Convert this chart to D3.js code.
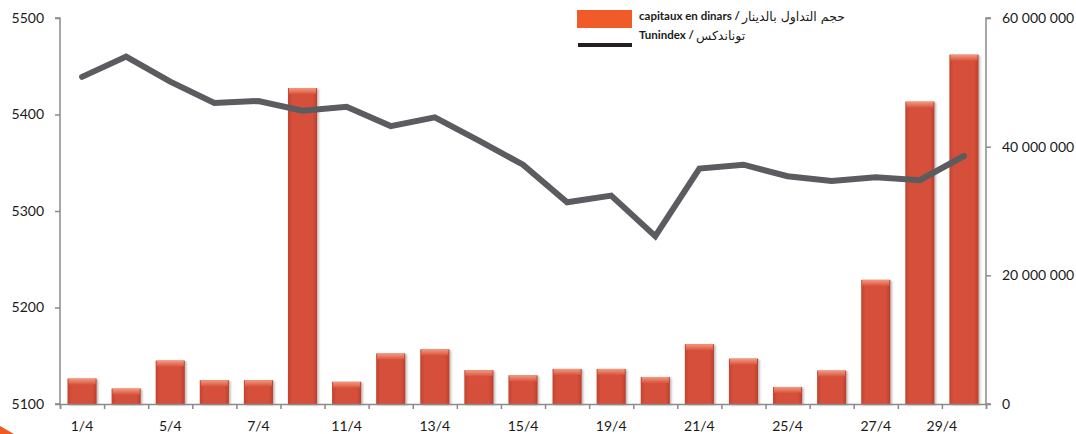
<!DOCTYPE html>
<html lang="fr">
<head>
<meta charset="UTF-8">
<title>Tunindex / capitaux</title>
<script src="https://d3js.org/d3.v7.min.js"></script>
<style>
    body { margin: 0; background: #fff; }
    svg text { font-family: Lato, "Open Sans", sans-serif; fill: #1a1a1a; }
    .axis path, .axis line { stroke: #8a8a8a; }
</style>
</head>
<body>
<div id="chart"></div>
<script>
// trading sessions of April (only some are labelled on the axis)
const sessions = ["1/4","2/4","5/4","6/4","7/4","8/4","11/4","12/4","13/4","14/4","15/4",
                  "18/4","19/4","20/4","21/4","22/4","25/4","26/4","27/4","28/4","29/4"];
// capitaux en dinars (millions)
const capitaux = [3.95, 2.4, 6.75, 3.7, 3.7, 49.1, 3.45, 7.85, 8.5, 5.25, 4.45,
                  5.45, 5.45, 4.2, 9.3, 7.05, 2.65, 5.2, 19.3, 47.0, 54.3];
// Tunindex
const tunindex = [5439, 5460, 5434, 5412, 5414, 5404, 5408, 5388, 5397, 5373, 5348,
                  5309, 5316, 5274, 5344, 5348, 5336, 5331, 5335, 5332, 5357];
// labels shown under the axis, and the session slot they sit on
const xLabels = ["1/4","5/4","7/4","11/4","13/4","15/4","19/4","21/4","25/4","27/4","29/4"];
const xLabelSlot = [0, 2, 4, 6, 8, 10, 12, 14, 16, 18, 19.5];
const leftTicks = [5100, 5200, 5300, 5400, 5500];
const rightTicks = [0, 20, 40, 60];

const width = 1076, height = 434;
const plotL = 60, plotR = 986, plotT = 18, plotB = 404;

const svg = d3.select("#chart").append("svg")
    .attr("width", width).attr("height", height);

const defs = svg.append("defs");
const side = defs.append("linearGradient").attr("id", "barSide");
side.append("stop").attr("offset", "0%").attr("stop-color", "#c2432f");
side.append("stop").attr("offset", "15%").attr("stop-color", "#d6503a");
side.append("stop").attr("offset", "85%").attr("stop-color", "#d6503a");
side.append("stop").attr("offset", "100%").attr("stop-color", "#b93e2b");
const cap = defs.append("linearGradient").attr("id", "barTop")
    .attr("x1", 0).attr("y1", 0).attr("x2", 0).attr("y2", 1);
cap.append("stop").attr("offset", "0%").attr("stop-color", "#f39a80");
cap.append("stop").attr("offset", "100%").attr("stop-color", "#d9553e");
const shadow = defs.append("filter").attr("id", "shadow")
    .attr("x", "-20%").attr("y", "-5%").attr("width", "150%").attr("height", "115%");
shadow.append("feDropShadow").attr("dx", 1.5).attr("dy", 1).attr("stdDeviation", 1)
    .attr("flood-color", "#000").attr("flood-opacity", 0.3);

// scales
const x = d3.scaleBand().domain(d3.range(sessions.length))
    .range([plotL, plotR]).paddingInner(0.34).paddingOuter(0.17);
const slot = d3.scaleLinear().domain([0, sessions.length]).range([plotL, plotR]);
const yL = d3.scaleLinear().domain([5100, 5500]).range([plotB, plotT]);
const yR = d3.scaleLinear().domain([0, 60]).range([plotB, plotT]);

// bars
const bars = svg.append("g").selectAll("g").data(capitaux).enter().append("g")
    .attr("filter", "url(#shadow)");
bars.append("rect")
    .attr("x", (d, i) => x(i)).attr("width", x.bandwidth())
    .attr("y", d => yR(d)).attr("height", d => plotB - yR(d))
    .attr("fill", "url(#barSide)");
bars.append("rect")
    .attr("x", (d, i) => x(i) + 1).attr("width", x.bandwidth() - 2)
    .attr("y", d => yR(d)).attr("height", d => Math.min(6, plotB - yR(d)))
    .attr("fill", "url(#barTop)");

// axes
const gl = svg.append("g").attr("class", "axis").attr("transform", `translate(${plotL},0)`)
    .call(d3.axisLeft(yL).tickValues(leftTicks).tickSize(5).tickPadding(11).tickFormat(d3.format("d")));
const gr = svg.append("g").attr("class", "axis").attr("transform", `translate(${plotR},0)`)
    .call(d3.axisRight(yR).tickValues(rightTicks).tickSize(5).tickPadding(11)
        .tickFormat(d => d === 0 ? "0" : d3.format(",")(d * 1e6).replace(/,/g, " ")));
const gx = svg.append("g").attr("class", "axis").attr("transform", `translate(0,${plotB})`)
    .call(d3.axisBottom(slot).tickValues(d3.range(sessions.length + 1)).tickSize(5).tickFormat(""));
[gl, gr, gx].forEach(g => {
    g.select(".domain").attr("stroke", "#8a8a8a").attr("stroke-width", 1.5);
    g.selectAll(".tick line").attr("stroke", "#8a8a8a").attr("stroke-width", 1.5);
    g.selectAll("text").style("font-size", "14px").attr("fill", "#1a1a1a");
});
gl.select(".domain").attr("d", `M-5,${plotT}H0V${plotB}H-5`);
gr.select(".domain").attr("d", `M5,${plotT}H0V${plotB}H5`);

svg.append("g").selectAll("text").data(xLabels).enter().append("text")
    .attr("x", (d, i) => slot(xLabelSlot[i] + 0.5))
    .attr("y", 431)
    .attr("text-anchor", "middle")
    .style("font-size", "14px")
    .text(d => d);

// Tunindex line
svg.append("path")
    .datum(tunindex)
    .attr("fill", "none")
    .attr("stroke", "#5b5c60")
    .attr("stroke-width", 6)
    .attr("stroke-linecap", "round")
    .attr("d", d3.line().x((d, i) => x(i) + x.bandwidth() / 2).y(d => yL(d)));

// legend
const legend = svg.append("g");
legend.append("rect").attr("x", 577).attr("y", 10).attr("width", 55).attr("height", 18)
    .attr("fill", "#f15a29");
legend.append("rect").attr("x", 578).attr("y", 43).attr("width", 54).attr("height", 4)
    .attr("fill", "#231f20");
const rows = [
    { latin: "capitaux en dinars /", arabic: "حجم التداول بالدينار", y: 20, size: 12.5 },
    { latin: "Tunindex /", arabic: "توناندكس", y: 39, size: 12.5 }
];
rows.forEach(r => {
    const t = legend.append("text").attr("x", 639).attr("y", r.y)
        .style("font-size", "11.5px").style("font-weight", "bold").text(r.latin);
    const w = t.node().getComputedTextLength();
    legend.append("text").attr("x", 639 + w + 2).attr("y", r.y + 1)
        .attr("direction", "rtl").attr("text-anchor", "end")
        .style("font-family", "'DejaVu Sans', sans-serif")
        .style("font-size", r.size + "px").text(r.arabic);
});

// corner decoration
svg.append("path").attr("d", "M0,426L14,434L0,434Z").attr("fill", "#f15a22");
</script>
</body>
</html>
